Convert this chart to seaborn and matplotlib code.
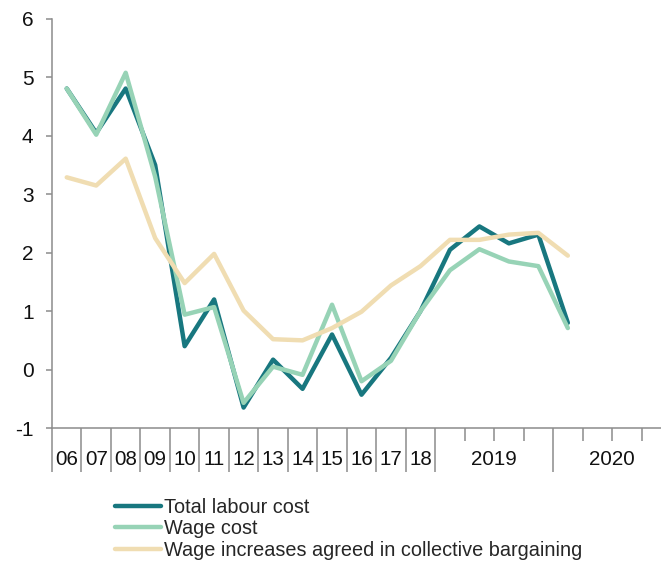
import pandas as pd
import matplotlib.pyplot as plt
import seaborn as sns

# ── DATA ──────────────────────────────────────────────
periods = ['06', '07', '08', '09', '10', '11', '12', '13', '14', '15', '16', '17', '18',
           '2019Q1', '2019Q2', '2019Q3', '2019Q4', '2020Q1']
total_labour_cost = [4.81, 4.05, 4.81, 3.50, 0.40, 1.20, -0.65, 0.17, -0.33, 0.60, -0.43,
                     0.20, 1.00, 2.05, 2.45, 2.16, 2.31, 0.80]
wage_cost = [4.81, 4.02, 5.08, 3.30, 0.94, 1.07, -0.57, 0.05, -0.09, 1.11, -0.20,
             0.15, 1.00, 1.70, 2.06, 1.85, 1.77, 0.71]
wage_agreed = [3.29, 3.15, 3.61, 2.25, 1.48, 1.98, 1.01, 0.52, 0.50, 0.71, 0.99,
               1.44, 1.77, 2.22, 2.22, 2.31, 2.34, 1.95]
series_names = ['Total labour cost', 'Wage cost', 'Wage increases agreed in collective bargaining']
colors = ['#18777f', '#97d3b6', '#f0ddb2']

year_labels = ['06', '07', '08', '09', '10', '11', '12', '13', '14', '15', '16', '17', '18']
group_labels = ['2019', '2020']
n_slots = 21  # 13 years + 4 quarters 2019 + 4 quarters 2020

# long-form table for seaborn
df = pd.DataFrame({
    'x': list(range(len(periods))) * 3,
    'value': total_labour_cost + wage_cost + wage_agreed,
    'series': [s for s in series_names for _ in periods],
})

# ── PLOT ──────────────────────────────────────────────
sns.set_style('white')
plt.rcParams['font.family'] = ['Liberation Sans', 'DejaVu Sans']
plt.rcParams['axes.unicode_minus'] = False

fig = plt.figure(figsize=(6.61, 5.64), dpi=100)
ax = fig.add_axes([52 / 661, 136 / 564, 619 / 661, 409 / 564])

sns.lineplot(data=df, x='x', y='value', hue='series', hue_order=series_names,
             palette=dict(zip(series_names, colors)), linewidth=3.2,
             sort=False, legend=False, ax=ax)

ax.set_xlim(-0.5, n_slots - 0.5)
ax.set_ylim(-1, 6)
ax.set_yticks(range(-1, 7))
ax.set_xlabel('')
ax.set_ylabel('')

for side in ['top', 'right']:
    ax.spines[side].set_visible(False)
for side in ['left', 'bottom']:
    ax.spines[side].set_color('#8c8c8c')
    ax.spines[side].set_linewidth(1.1)

# separators between years (long) and quarters (short)
major = [i - 0.5 for i in range(14)] + [16.5, 20.5]
minor = [13.5, 14.5, 15.5, 17.5, 18.5, 19.5]
ax.set_xticks(major)
ax.set_xticks(minor, minor=True)
ax.set_xticklabels([])
ax.tick_params(axis='x', which='both', bottom=True)
ax.tick_params(axis='x', which='major', length=31.7, width=1.1, color='#8c8c8c', direction='out')
ax.tick_params(axis='x', which='minor', length=9.4, width=1.1, color='#8c8c8c', direction='out')
ax.tick_params(axis='y', length=4.3, width=1.1, color='#8c8c8c', pad=9,
               labelsize=15, labelcolor='#111111', left=True)

trans = ax.get_xaxis_transform()
for i, lab in enumerate(year_labels):
    ax.text(i, -0.076, lab, transform=trans, ha='center', va='center',
            fontsize=14.8, color='#111111')
for xc, lab in zip([14.5, 18.5], group_labels):
    ax.text(xc, -0.076, lab, transform=trans, ha='center', va='center',
            fontsize=14.8, color='#111111')

fig.legend(handles=ax.get_lines()[:3], labels=series_names,
           loc='upper left', bbox_to_anchor=(115 / 661, 1 - 498 / 564),
           frameon=False, fontsize=14.3, handlelength=2.3, handletextpad=0.15,
           labelspacing=0.12, borderpad=0, borderaxespad=0)

fig.savefig('out.png', dpi=100)
